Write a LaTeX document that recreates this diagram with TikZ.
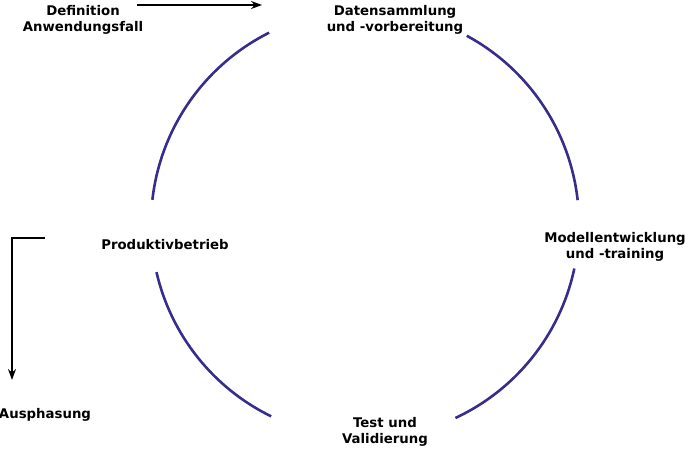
\documentclass[tikz,border=0pt]{standalone}
\usepackage{fontspec}
\setmainfont{DejaVu Sans}
\usetikzlibrary{arrows.meta}
\begin{document}
\begin{tikzpicture}[x=1pt,y=-1pt,
  lbl/.style={font=\bfseries\fontsize{13.3}{15.5}\selectfont,align=center,inner sep=1pt},
  arc/.style={draw={rgb,255:red,55;green,45;blue,140},line width=2.6pt},
  arr/.style={draw=black,line width=1.4pt,-{Stealth[length=11pt,width=8pt]}}]
\useasboundingbox (0,0) rectangle (685,452);
\node[lbl] (def) at (83,20) {Definition\\Anwendungsfall};
\node[lbl] (dat) at (395,20) {Datensammlung\\und -vorbereitung};
\node[lbl] (mod) at (615,247) {Modellentwicklung\\und -training};
\node[lbl] (tst) at (385,432) {Test und\\Validierung};
\node[lbl] (pro) at (165,245) {Produktivbetrieb};
\node[lbl] (aus) at (45,415) {Ausphasung};
\begin{scope}[y=1pt]
\coordinate (cc) at (365,-224);
\draw[arc] (cc) ++(61.6:214) arc[start angle=61.6,end angle=6.4,radius=214];
\draw[arc] (cc) ++(-12:214) arc[start angle=-12,end angle=-65,radius=214];
\draw[arc] (cc) ++(-116:214) arc[start angle=-116,end angle=-167,radius=214];
\draw[arc] (cc) ++(173.5:214) arc[start angle=173.5,end angle=116.6,radius=214];
\end{scope}
\draw[arr] (137,5) -- (262,5);
\draw[arr] (45,238) -- (12,238) -- (12,380);
\end{tikzpicture}
\end{document}
